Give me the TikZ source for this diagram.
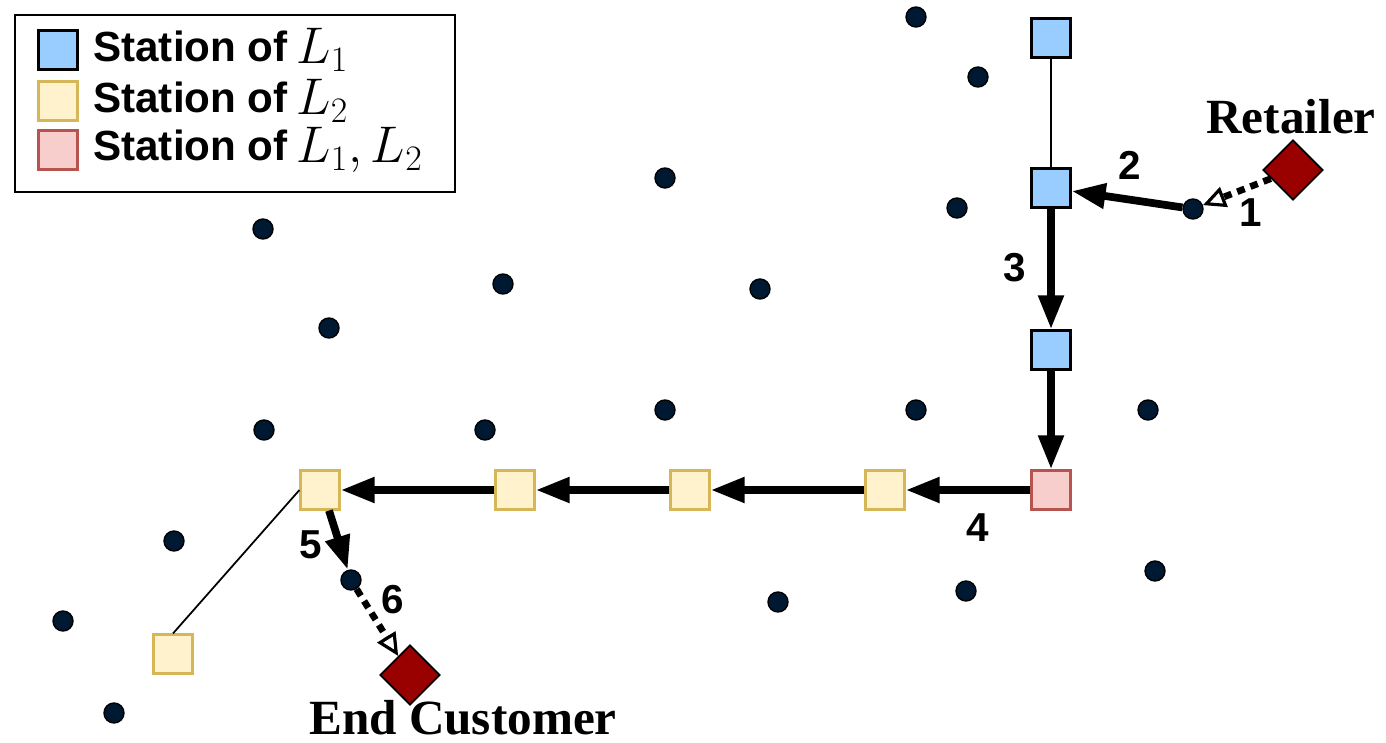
\documentclass[tikz,border=0pt]{standalone}
\usepackage{fontspec}
\setmainfont{Liberation Serif}
\setsansfont{Liberation Sans}
\usetikzlibrary{arrows.meta,shapes.geometric}

\definecolor{lineone}{HTML}{99CCFF}
\definecolor{linetwo}{HTML}{FFF2CC}
\definecolor{linetwoedge}{HTML}{D6B656}
\definecolor{shared}{HTML}{F8CECC}
\definecolor{sharededge}{HTML}{B85450}
\definecolor{navy}{HTML}{001933}
\definecolor{shop}{HTML}{990000}

\newcommand{\lname}[1]{\hspace{5pt}\raisebox{-1pt}{\scalebox{1.18}{$#1$}}}

\begin{document}
\begin{tikzpicture}[x=0.02cm, y=-0.02cm,
		sta1/.style={draw=black, fill=lineone, line width=1.2pt, minimum size=0.78cm, inner sep=0pt},
		sta2/.style={draw=linetwoedge, fill=linetwo, line width=1.2pt, minimum size=0.78cm, inner sep=0pt},
		sta12/.style={draw=sharededge, fill=shared, line width=1.2pt, minimum size=0.78cm, inner sep=0pt},
		dot/.style={circle, draw=black, fill=navy, line width=0.8pt, minimum size=0.4cm, inner sep=0pt},
		place/.style={diamond, draw=black, fill=shop, line width=1pt, minimum width=1.2cm, minimum height=1.2cm, inner sep=0pt},
		route/.style={line width=4.4pt, -{Triangle[length=0.68cm, width=0.48cm]}},
		hop/.style={line width=3.8pt, dash pattern=on 4.5pt off 3.5pt, -{Triangle[open, length=0.45cm, width=0.42cm, line width=1.8pt]}},
		step num/.style={font=\sffamily\bfseries\fontsize{23}{27}\selectfont, inner sep=0pt},
		tag/.style={font=\bfseries\fontsize{28}{32}\selectfont, inner sep=0pt},
		key/.style={anchor=west, font=\sffamily\bfseries\fontsize{24}{27}\selectfont, inner sep=0pt}]
	\useasboundingbox (0,0) rectangle (1386,743);

	% Scattered candidate points.
	\foreach \px/\py in {916/17, 978/77, 665/178, 957/208, 263/229, 503/284, 760/289,
			329/328, 665/410, 916/410, 1148/410, 264/430, 485/430, 174/541,
			1155/571, 966/591, 778/602, 63/621, 114/713} {
		\node[dot] at (\px,\py) {};
	}
	\node[dot] (pick) at (1193,209) {};
	\node[dot] (drop) at (351,580) {};

	% Stations of both lines.
	\node[sta1] (a1) at (1051,38) {};
	\node[sta1] (a2) at (1051,188) {};
	\node[sta1] (a3) at (1051,350) {};
	\node[sta12] (ab) at (1051,490) {};
	\node[sta2] (b1) at (885,490) {};
	\node[sta2] (b2) at (690,490) {};
	\node[sta2] (b3) at (515,490) {};
	\node[sta2] (b4) at (320,490) {};
	\node[sta2] (b5) at (173,654) {};

	% Pick-up and drop-off places.
	\node[place] (retail) at (1293,170) {};
	\node[place] (cust) at (410,675) {};
	\node[tag] (retailtxt) at (1291,117) {Retailer};
	\node[tag, anchor=base] (custtxt) at (463,734) {End Customer};

	% Unused track segments.
	\draw[line width=1pt] (a1) -- (a2);
	\draw[line width=1pt] (b4.west) -- (b5.north);

	% The delivery route.
	\coordinate (b4out) at ([xshift=0.18cm]b4.south);
	\draw[hop] (retail) -- (pick);
	\draw[route] (pick) -- (a2);
	\draw[route] (a2) -- (a3);
	\draw[route] (a3) -- (ab);
	\draw[route] (ab) -- (b1);
	\draw[route] (b1) -- (b2);
	\draw[route] (b2) -- (b3);
	\draw[route] (b3) -- (b4);
	\draw[route] (b4out) -- (drop);
	\draw[hop] (drop) -- (cust);

	\node[step num] (n1) at (1251,213) {1};
	\node[step num] (n2) at (1130,165) {2};
	\node[step num] (n3) at (1015,268) {3};
	\node[step num] (n4) at (978,528) {4};
	\node[step num] (n5) at (311,545) {5};
	\node[step num] (n6) at (393,600) {6};

	% Legend.
	\draw[line width=1.2pt] (15,15) rectangle (455,192);
	\node[sta1] (k1) at (58,50) {};
	\node[sta2] (k2) at (58,101) {};
	\node[sta12] (k3) at (58,150) {};
	\node[key] (k1txt) at (93,50) {Station of\lname{L_1}};
	\node[key] (k2txt) at (93,101) {Station of\lname{L_2}};
	\node[key] (k3txt) at (93,150) {Station of\lname{L_1, L_2}};
\end{tikzpicture}
\end{document}
